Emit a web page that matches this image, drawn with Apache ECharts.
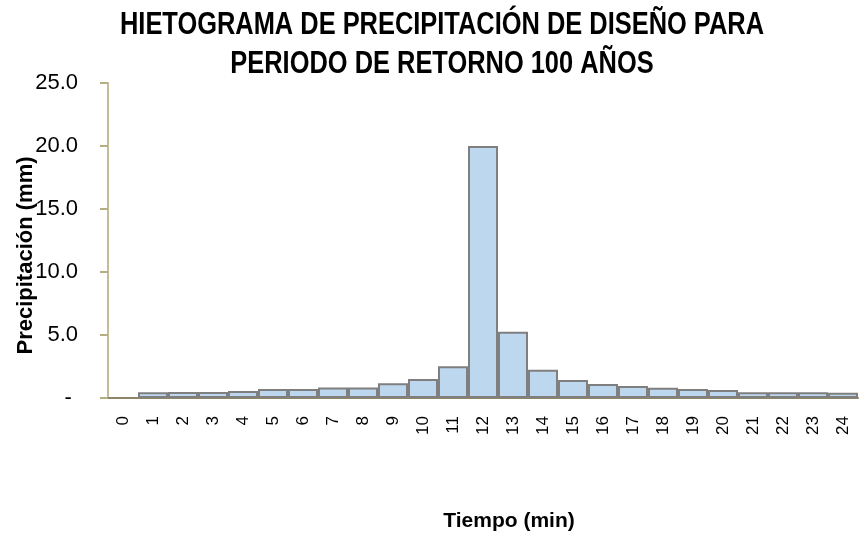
<!DOCTYPE html>
<html>
<head>
<meta charset="utf-8">
<script src="https://cdn.jsdelivr.net/npm/echarts@6/dist/echarts.min.js"></script>
<style>
  html, body { margin: 0; padding: 0; background: #ffffff; }
  #chart { width: 862px; height: 542px; }
</style>
</head>
<body>
<div id="chart"></div>
<script>
// Hietograma: precipitación por intervalo de tiempo
const titleLines = ['HIETOGRAMA DE PRECIPITACIÓN DE DISEÑO PARA', 'PERIODO DE RETORNO 100 AÑOS'];
const timeSteps = ['0', '1', '2', '3', '4', '5', '6', '7', '8', '9', '10', '11', '12',
                   '13', '14', '15', '16', '17', '18', '19', '20', '21', '22', '23', '24'];
const precipitation = [null, 0.45, 0.47, 0.47, 0.55, 0.71, 0.71, 0.84, 0.84, 1.18, 1.51, 2.51, 20.0,
                       5.26, 2.25, 1.43, 1.11, 0.95, 0.82, 0.71, 0.63, 0.45, 0.45, 0.45, 0.42];
const yTicks = { min: 0, max: 25, step: 5 };
const xAxisName = 'Tiempo (min)';
const yAxisName = 'Precipitación (mm)';

const SANS = '"Liberation Sans", Arial, sans-serif';

const chart = echarts.init(document.getElementById('chart'), null, { renderer: 'canvas' });
chart.setOption({
  animation: false,
  backgroundColor: '#ffffff',
  // Condensed bold heading (horizontally compressed), plus both axis titles
  graphic: [
    {
      type: 'text', x: 442, y: 25, scaleX: 0.82,
      style: { text: titleLines[0], fontFamily: SANS, fontWeight: 'bold', fontSize: 31,
               fill: '#000', align: 'center', verticalAlign: 'middle' }
    },
    {
      type: 'text', x: 442, y: 64, scaleX: 0.82,
      style: { text: titleLines[1], fontFamily: SANS, fontWeight: 'bold', fontSize: 31,
               fill: '#000', align: 'center', verticalAlign: 'middle' }
    },
    {
      type: 'text', x: 25.5, y: 255.5, rotation: Math.PI / 2,
      style: { text: yAxisName, fontFamily: SANS, fontWeight: 'bold', fontSize: 22,
               fill: '#000', align: 'center', verticalAlign: 'middle' }
    },
    {
      type: 'text', x: 509, y: 521,
      style: { text: xAxisName, fontFamily: SANS, fontWeight: 'bold', fontSize: 21,
               fill: '#000', align: 'center', verticalAlign: 'middle' }
    }
  ],
  grid: { left: 108, right: 4, top: 83, bottom: 144, containLabel: false },
  xAxis: {
    type: 'category',
    data: timeSteps,
    axisLine: { show: true, lineStyle: { color: '#8d8566', width: 2 } },
    axisTick: { show: false },
    axisLabel: {
      rotate: 90,
      interval: 0,
      margin: 18,
      fontFamily: SANS,
      fontSize: 17,
      color: '#000'
    }
  },
  yAxis: {
    type: 'value',
    min: yTicks.min,
    max: yTicks.max,
    interval: yTicks.step,
    splitLine: { show: false },
    axisLine: { show: true, lineStyle: { color: '#c4bc96', width: 2 } },
    axisTick: { show: true, inside: false, length: 8, lineStyle: { color: '#b5ad84', width: 2 } },
    axisLabel: {
      margin: 30,
      fontFamily: SANS,
      fontSize: 22,
      color: '#000',
      formatter: v => (v === 0 ? '- ' : v.toFixed(1))
    }
  },
  series: [{
    type: 'bar',
    data: precipitation,
    barCategoryGap: '0%',
    itemStyle: { color: '#bdd7ee', borderColor: '#7f7f7f', borderWidth: 2 }
  }]
});
</script>
</body>
</html>
